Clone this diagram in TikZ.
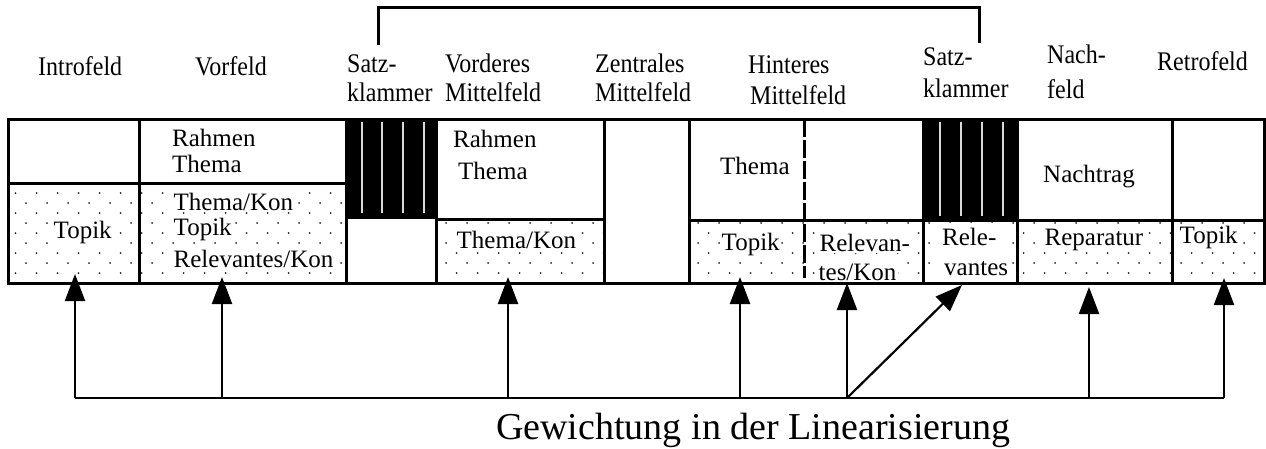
\documentclass[tikz,border=0pt]{standalone}
\usepackage{fontspec}
\setmainfont{Liberation Serif}
\usetikzlibrary{arrows.meta,patterns}
\pgfdeclarepatternformonly{wdots}{\pgfqpoint{-1pt}{-1pt}}{\pgfqpoint{22pt}{21pt}}{\pgfqpoint{21pt}{20pt}}{%
  \pgfpathcircle{\pgfqpoint{5pt}{5pt}}{1pt}%
  \pgfpathcircle{\pgfqpoint{15.5pt}{15pt}}{1pt}%
  \pgfusepath{fill}}
\newcommand{\tallhdr}[1]{\scalebox{1}[1.12]{#1}}
\tikzset{
  border/.style={draw=black, line width=3pt},
  dotfill/.style={pattern=wdots, pattern color=black!85},
  blackfill/.style={fill=black},
  slit/.style={draw=white!85!black, line width=2pt},
  hdr/.style={anchor=base west, inner sep=0pt, font=\fontsize{24}{28}\selectfont},
  txt/.style={anchor=base west, inner sep=0pt, font=\fontsize{25}{29}\selectfont},
  wtxt/.style={txt, fill=white, inner sep=1.5pt},
  big/.style={anchor=base west, inner sep=0pt, font=\fontsize{38}{44}\selectfont},
  bus/.style={draw=black, line width=2.5pt},
  arr/.style={draw=black, line width=2.2pt, -{Triangle[width=20pt,length=27pt]}},
  brk/.style={draw=black, line width=3pt}
}
\begin{document}
\begin{tikzpicture}[x=1pt,y=-1pt]
\useasboundingbox (0,0) rectangle (1266,448);
% dotted regions
\fill[dotfill] (8,183) rectangle (346,283);
\fill[dotfill] (436,219) rectangle (604,283);
\fill[dotfill] (689,220) rectangle (1264,283);
% black satzklammer blocks
\fill[blackfill] (346,119) rectangle (436,217);
\fill[blackfill] (923,119) rectangle (1017,220);
\foreach \x in {362,382,403,424} \draw[slit] (\x,122) -- (\x,213);
\foreach \x in {940,961,982,1003} \draw[slit] (\x,122) -- (\x,216);
% white box behind Rele-vantes
\fill[white] (933,223) rectangle (1011,281);
% cell texts
\node[wtxt] (c1) at (52,238) {Topik};
\node[txt] (c2a) at (172,146) {Rahmen};
\node[txt] (c2b) at (172,172) {Thema};
\node[wtxt] (c2c) at (172,210) {Thema/Kon};
\node[wtxt] (c2d) at (172,235) {Topik};
\node[wtxt] (c2e) at (172,267) {Relevantes/Kon};
\node[txt] (c4a) at (453,147) {Rahmen};
\node[txt] (c4b) at (458,179) {Thema};
\node[wtxt] (c4c) at (455,248) {Thema/Kon};
\node[txt] (c6a) at (720,174) {Thema};
\node[wtxt] (c6b) at (720,250) {Topik};
\node[wtxt] (c6c) at (818,251) {Relevan-};
\node[wtxt] (c6d) at (817,280) {tes/Kon};
\node[txt] (c7a) at (942,245) {Rele-};
\node[txt] (c7b) at (944,275) {vantes};
\node[txt] (c8a) at (1043,182) {Nachtrag};
\node[wtxt] (c8b) at (1043,245) {Reparatur};
\node[wtxt] (c9) at (1178,243) {Topik};
% borders
\draw[border] (8,119) rectangle (139,183);
\draw[border] (8,183) rectangle (139,283);
\draw[border] (139,119) rectangle (346,183);
\draw[border] (139,183) rectangle (346,283);
\draw[border] (346,119) rectangle (436,283);
\draw[border] (346,217) -- (436,217);
\draw[border] (436,119) rectangle (604,219);
\draw[border] (436,219) rectangle (604,283);
\draw[border] (604,119) rectangle (689,283);
\draw[border] (689,119) rectangle (923,220);
\draw[border] (689,220) rectangle (923,283);
\draw[draw=black, line width=3pt, dash pattern=on 18pt off 3pt] (804,119) -- (804,278);
\draw[border] (923,119) rectangle (1017,283);
\draw[border] (923,220) -- (1017,220);
\draw[border] (1017,119) rectangle (1172,220);
\draw[border] (1017,220) rectangle (1172,283);
\draw[border] (1172,119) rectangle (1264,220);
\draw[border] (1172,220) rectangle (1264,283);
% bracket
\coordinate (k1) at (378,45);
\coordinate (k2) at (378,7);
\coordinate (k3) at (979,7);
\coordinate (k4) at (979,43);
\draw[brk] (k1) -- (k2) -- (k3) -- (k4);
% headers
\node[hdr] (h1) at (38,75) {\tallhdr{Introfeld}};
\node[hdr] (h2) at (195,75) {\tallhdr{Vorfeld}};
\node[hdr] (h3a) at (347,72) {\tallhdr{Satz-}};
\node[hdr] (h3b) at (347,101) {\tallhdr{klammer}};
\node[hdr] (h4a) at (445,72) {\tallhdr{Vorderes}};
\node[hdr] (h4b) at (445,101) {\tallhdr{Mittelfeld}};
\node[hdr] (h5a) at (595,72) {\tallhdr{Zentrales}};
\node[hdr] (h5b) at (595,101) {\tallhdr{Mittelfeld}};
\node[hdr] (h6a) at (748,73) {\tallhdr{Hinteres}};
\node[hdr] (h6b) at (750,104) {\tallhdr{Mittelfeld}};
\node[hdr] (h7a) at (923,65) {\tallhdr{Satz-}};
\node[hdr] (h7b) at (923,97) {\tallhdr{klammer}};
\node[hdr] (h8a) at (1047,63) {\tallhdr{Nach-}};
\node[hdr] (h8b) at (1047,98) {\tallhdr{feld}};
\node[hdr] (h9) at (1157,70) {\tallhdr{Retrofeld}};
% arrows
\coordinate (b1) at (75,398);
\coordinate (b2) at (222,398);
\coordinate (b3) at (508,398);
\coordinate (b4) at (740,398);
\coordinate (b5) at (847,398);
\coordinate (b6) at (1089,398);
\coordinate (b7) at (1224,398);
\coordinate (t1) at (75,274);
\coordinate (t2) at (222,277);
\coordinate (t3) at (508,277);
\coordinate (t4) at (740,277);
\coordinate (t5) at (847,283);
\coordinate (t5d) at (962,285);
\coordinate (t6) at (1089,287);
\coordinate (t7) at (1224,278);
\draw[bus] (b1) -- (b7);
\draw[arr] (b1) -- (t1);
\draw[arr] (b2) -- (t2);
\draw[arr] (b3) -- (t3);
\draw[arr] (b4) -- (t4);
\draw[arr] (b5) -- (t5);
\draw[arr] (b5) -- (t5d);
\draw[arr] (b6) -- (t6);
\draw[arr] (b7) -- (t7);
\node[big] (cap) at (496,439) {Gewichtung in der Linearisierung};
\end{tikzpicture}
\end{document}
